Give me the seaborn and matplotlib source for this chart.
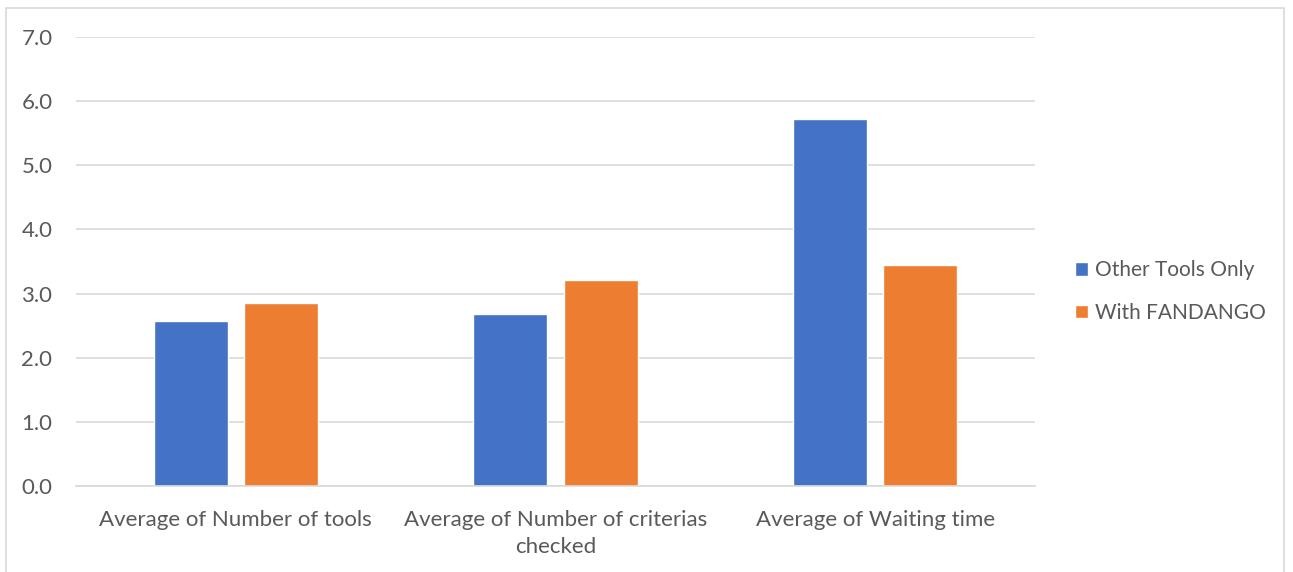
import matplotlib
matplotlib.use("Agg")
import matplotlib.pyplot as plt
import pandas as pd
import seaborn as sns
from matplotlib.patches import Rectangle

categories = ["Average of Number of tools", "Average of Number of criterias\nchecked", "Average of Waiting time"]
series_names = ["Other Tools Only", "With FANDANGO"]
other_tools = [2.57, 2.68, 5.72]
with_fandango = [2.85, 3.21, 3.44]
y_ticks = [0.0, 1.0, 2.0, 3.0, 4.0, 5.0, 6.0, 7.0]
colors = ["#4472C4", "#ED7D31"]

df = pd.DataFrame({
    "category": categories * 2,
    "series": [series_names[0]] * 3 + [series_names[1]] * 3,
    "value": other_tools + with_fandango,
})

sns.set_theme(style="white")
plt.rcParams["font.family"] = ["Lato", "DejaVu Sans"]
text_color = "#595959"
grid_color = "#D9D9D9"

fig = plt.figure(figsize=(12.93, 5.72), dpi=100)
ax = fig.add_axes([76 / 1293, 1 - 486 / 572, (1035 - 76) / 1293, (486 - 37) / 572])

sns.barplot(data=df, x="category", y="value", hue="series", palette=colors,
            width=0.565, gap=0.18, ax=ax, legend=True, saturation=1)

ax.set_ylim(0, 7)
ax.set_xlim(-0.5, 2.5)
ax.set_yticks(y_ticks)
ax.set_yticklabels([f"{v:.1f}" for v in y_ticks], color=text_color, fontsize=16)
ax.tick_params(axis="y", length=0, pad=17)
ax.tick_params(axis="x", length=0, pad=17, labelsize=16, labelcolor=text_color)
for lbl in ax.get_xticklabels():
    lbl.set_linespacing(1.45)
ax.yaxis.grid(True, color=grid_color, linewidth=1.2)
ax.set_axisbelow(True)
for side in ["left", "right", "top"]:
    ax.spines[side].set_visible(False)
ax.spines["bottom"].set_color(grid_color)
ax.spines["bottom"].set_linewidth(1.2)
ax.set_xlabel("")
ax.set_ylabel("")

leg = ax.legend(loc="center left", bbox_to_anchor=(1.022, 0.433), frameon=False,
                fontsize=15, handlelength=0.62, handleheight=0.62, handletextpad=0.35,
                labelspacing=1.1)
for t in leg.get_texts():
    t.set_color(text_color)

fig.patches.append(Rectangle((6 / 1293, -0.1), (1284 - 6) / 1293, 1.1 - 8 / 572,
                             transform=fig.transFigure, fill=False,
                             edgecolor=grid_color, linewidth=1.2))

fig.savefig("out.png", dpi=100)
